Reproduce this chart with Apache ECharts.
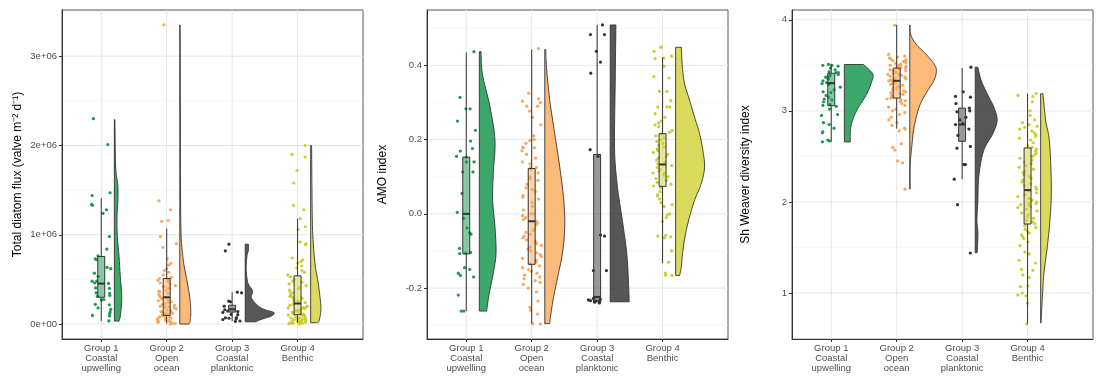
<!DOCTYPE html>
<html lang="en">
<head>
<meta charset="UTF-8">
<title>Raincloud plots</title>
<script src="https://cdn.jsdelivr.net/npm/echarts@6/dist/echarts.min.js"></script>
<style>
  html, body { margin: 0; padding: 0; background: #fff; }
  #chart { width: 1105px; height: 385px; }
</style>
</head>
<body>
<div id="chart"></div>
<script>
var groupLabels = ['Group 1\nCoastal\nupwelling', 'Group 2\nOpen\nocean', 'Group 3\nCoastal\nplanktonic', 'Group 4\nBenthic'];
var groupSlots = [1, 2, 3, 4];
var pointColors = ['#1a9850', '#fba65a', '#333333', '#cccc33'];
var fillColors = ['#1a9850', '#fdae61', '#3a3a3a', '#d3d340'];

// ---- panel 1: total diatom flux, in millions of valves m-2 d-1 ----
var fluxTicks = [0, 1, 2, 3];
var fluxMinor = [0.5, 1.5, 2.5, 3.5];
var fluxPoints1 = [2.30, 2.01, 1.47, 1.44, 1.34, 1.33, 1.28, 1.24, 0.98, 0.84, 0.765, 0.73, 0.72, 0.635, 0.62, 0.57, 0.535, 0.48, 0.48, 0.46, 0.455, 0.405, 0.40, 0.35, 0.345, 0.32, 0.31, 0.275, 0.27, 0.22, 0.215, 0.18, 0.164, 0.134, 0.116, 0.097, 0.09, 0.035];
var fluxPoints2 = [3.35, 1.38, 1.28, 1.16, 1.15, 0.98, 0.90, 0.86, 0.73, 0.68, 0.66, 0.62, 0.60, 0.58, 0.55, 0.52, 0.51, 0.50, 0.49, 0.48, 0.46, 0.45, 0.43, 0.42, 0.40, 0.38, 0.37, 0.36, 0.34, 0.33, 0.31, 0.30, 0.29, 0.28, 0.27, 0.26, 0.25, 0.24, 0.23, 0.22, 0.21, 0.20, 0.19, 0.19, 0.18, 0.17, 0.16, 0.15, 0.14, 0.14, 0.13, 0.12, 0.12, 0.11, 0.10, 0.10, 0.09, 0.08, 0.08, 0.07, 0.07, 0.06, 0.05, 0.05, 0.04, 0.04, 0.03, 0.03, 0.02, 0.02, 0.01, 0.01, 0.005, 0.0];
var fluxPoints3 = [0.895, 0.82, 0.357, 0.35, 0.256, 0.25, 0.20, 0.16, 0.145, 0.14, 0.13, 0.108, 0.105, 0.071, 0.065, 0.06, 0.07, 0.05, 0.034, 0.03];
var fluxPoints4 = [2.0, 1.90, 1.87, 1.72, 1.58, 1.33, 1.28, 1.18, 1.09, 1.06, 0.92, 0.90, 0.89, 0.74, 0.72, 0.70, 0.68, 0.65, 0.63, 0.60, 0.58, 0.55, 0.53, 0.50, 0.48, 0.47, 0.45, 0.43, 0.41, 0.40, 0.38, 0.36, 0.35, 0.33, 0.31, 0.30, 0.29, 0.27, 0.26, 0.25, 0.24, 0.23, 0.22, 0.21, 0.20, 0.19, 0.18, 0.18, 0.17, 0.16, 0.15, 0.15, 0.14, 0.13, 0.13, 0.12, 0.11, 0.11, 0.10, 0.10, 0.09, 0.09, 0.08, 0.08, 0.07, 0.07, 0.06, 0.06, 0.05, 0.05, 0.05, 0.04, 0.04, 0.03, 0.03, 0.03, 0.02, 0.02, 0.02, 0.01, 0.01, 0.01, 0.005, 0.0];
// box stats: [lower whisker, q1, median, q3, upper whisker]
var fluxBoxes = [[0.033, 0.30, 0.453, 0.757, 1.41], [0.005, 0.097, 0.30, 0.51, 1.07], [0.034, 0.134, 0.165, 0.211, 0.356], [0.015, 0.105, 0.23, 0.54, 1.18]];
// half-violin profiles: [value, half width in category units], top to bottom
var fluxViolin1 = [[2.29, 0.008], [1.76, 0.020], [1.58, 0.050], [1.43, 0.056], [1.20, 0.041], [0.98, 0.046], [0.757, 0.072], [0.535, 0.091], [0.353, 0.111], [0.24, 0.111], [0.09, 0.091], [0.033, 0.072]];
var fluxViolin2 = [[3.35, 0.005], [2.5, 0.008], [1.5, 0.011], [1.0, 0.020], [0.8, 0.041], [0.65, 0.066], [0.46, 0.117], [0.27, 0.157], [0.13, 0.168], [0.03, 0.157], [0.0, 0.142]];
var fluxViolin3 = [[0.895, 0.050], [0.83, 0.050], [0.757, 0.026], [0.61, 0.015], [0.46, 0.041], [0.39, 0.102], [0.35, 0.111], [0.29, 0.095], [0.2, 0.203], [0.16, 0.305], [0.127, 0.442], [0.09, 0.40], [0.07, 0.32], [0.04, 0.20], [0.025, 0.17]];
var fluxViolin4 = [[2.0, 0.015], [1.5, 0.020], [1.05, 0.030], [0.68, 0.066], [0.50, 0.107], [0.31, 0.142], [0.164, 0.157], [0.033, 0.127], [0.015, 0.091]];

// ---- panel 2: AMO index ----
var amoTicks = [-0.2, 0.0, 0.2, 0.4];
var amoMinor = [-0.3, -0.1, 0.1, 0.3, 0.5];
var amoPoints1 = [0.437, 0.314, 0.283, 0.283, 0.25, 0.225, 0.196, 0.176, 0.169, 0.155, 0.152, 0.14, 0.14, 0.113, 0.113, 0.055, 0.004, -0.012, -0.038, -0.051, -0.055, -0.093, -0.104, -0.106, -0.107, -0.145, -0.15, -0.16, -0.17, -0.166, -0.219, -0.262, -0.262];
var amoPoints2 = [0.445, 0.325, 0.31, 0.304, 0.30, 0.29, 0.29, 0.277, 0.26, 0.24, 0.21, 0.20, 0.198, 0.19, 0.18, 0.178, 0.178, 0.17, 0.16, 0.15, 0.14, 0.135, 0.125, 0.125, 0.12, 0.11, 0.10, 0.095, 0.09, 0.08, 0.07, 0.065, 0.06, 0.05, 0.045, 0.04, 0.03, 0.02, 0.01, 0.0, 0.0, -0.005, -0.01, -0.015, -0.02, -0.025, -0.03, -0.04, -0.045, -0.05, -0.055, -0.06, -0.065, -0.07, -0.075, -0.08, -0.085, -0.09, -0.095, -0.10, -0.105, -0.11, -0.115, -0.12, -0.125, -0.13, -0.135, -0.14, -0.145, -0.15, -0.155, -0.16, -0.165, -0.17, -0.175, -0.18, -0.185, -0.19, -0.20, -0.21, -0.235, -0.252, -0.26, -0.27, -0.296, -0.297];
var amoPoints3 = [0.509, 0.483, 0.483, 0.438, 0.409, 0.379, 0.173, 0.155, -0.057, -0.06, -0.153, -0.153, -0.228, -0.23, -0.232, -0.234, -0.235, -0.236, -0.237, -0.238, -0.24, -0.235];
var amoPoints4 = [0.449, 0.449, 0.438, 0.425, 0.42, 0.418, 0.398, 0.37, 0.366, 0.33, 0.33, 0.305, 0.288, 0.288, 0.288, 0.27, 0.26, 0.25, 0.245, 0.24, 0.235, 0.225, 0.22, 0.215, 0.21, 0.205, 0.20, 0.195, 0.19, 0.185, 0.18, 0.175, 0.17, 0.165, 0.16, 0.155, 0.15, 0.145, 0.14, 0.135, 0.13, 0.125, 0.12, 0.115, 0.11, 0.11, 0.105, 0.10, 0.095, 0.09, 0.085, 0.08, 0.075, 0.07, 0.06, 0.052, 0.048, 0.04, 0.03, 0.025, 0.02, 0.0, -0.003, -0.01, -0.02, -0.058, -0.06, -0.062, -0.065, -0.10, -0.13, -0.16, -0.165, -0.166];
var amoBoxes = [[-0.262, -0.108, 0.0, 0.153, 0.435], [-0.296, -0.136, -0.02, 0.122, 0.443], [-0.237, -0.235, -0.224, 0.16, 0.509], [-0.133, 0.074, 0.133, 0.216, 0.422]];
var amoViolin1 = [[0.437, 0.026], [0.377, 0.046], [0.288, 0.163], [0.198, 0.239], [0.109, 0.213], [0.037, 0.203], [-0.035, 0.239], [-0.106, 0.255], [-0.160, 0.213], [-0.214, 0.152], [-0.262, 0.111]];
var amoViolin2 = [[0.443, 0.015], [0.395, 0.026], [0.306, 0.076], [0.216, 0.152], [0.126, 0.229], [0.037, 0.290], [-0.035, 0.305], [-0.106, 0.270], [-0.178, 0.188], [-0.232, 0.127], [-0.277, 0.087], [-0.296, 0.076]];
var amoViolin3 = [[0.509, 0.087], [0.355, 0.076], [0.176, 0.066], [0.086, 0.102], [0.032, 0.142], [-0.039, 0.203], [-0.111, 0.255], [-0.183, 0.279], [-0.237, 0.290]];
var amoViolin4 = [[0.449, 0.087], [0.395, 0.102], [0.35, 0.137], [0.306, 0.213], [0.26, 0.290], [0.216, 0.366], [0.171, 0.416], [0.126, 0.442], [0.082, 0.392], [0.037, 0.290], [-0.008, 0.213], [-0.053, 0.152], [-0.098, 0.111], [-0.142, 0.087], [-0.166, 0.061]];

// ---- panel 3: Shannon-Weaver diversity ----
var shTicks = [1, 2, 3, 4];
var shMinor = [0.5, 1.5, 2.5, 3.5];
var shPoints1 = [3.51, 3.50, 3.50, 3.49, 3.47, 3.45, 3.43, 3.42, 3.42, 3.40, 3.39, 3.38, 3.37, 3.36, 3.35, 3.33, 3.31, 3.30, 3.29, 3.26, 3.23, 3.21, 3.20, 3.17, 3.15, 3.13, 3.12, 3.10, 3.07, 3.06, 3.05, 3.02, 2.96, 2.95, 2.87, 2.85, 2.81, 2.77, 2.76, 2.68, 2.67, 2.66];
var shPoints2 = [3.94, 3.62, 3.60, 3.59, 3.58, 3.57, 3.56, 3.55, 3.55, 3.54, 3.53, 3.52, 3.51, 3.50, 3.50, 3.49, 3.48, 3.47, 3.47, 3.46, 3.45, 3.44, 3.44, 3.43, 3.42, 3.41, 3.40, 3.40, 3.39, 3.38, 3.37, 3.36, 3.35, 3.35, 3.34, 3.33, 3.32, 3.31, 3.30, 3.29, 3.28, 3.27, 3.26, 3.25, 3.24, 3.23, 3.22, 3.21, 3.20, 3.19, 3.18, 3.17, 3.16, 3.15, 3.14, 3.13, 3.12, 3.11, 3.10, 3.08, 3.06, 3.04, 3.02, 3.00, 2.98, 2.96, 2.93, 2.90, 2.87, 2.84, 2.81, 2.80, 2.78, 2.64, 2.60, 2.57, 2.45, 2.43, 2.14];
var shPoints3 = [3.48, 3.21, 3.16, 3.15, 3.08, 3.03, 3.0, 2.99, 2.93, 2.9, 2.86, 2.85, 2.80, 2.73, 2.61, 2.59, 2.41, 2.41, 2.25, 1.97, 1.44];
var shPoints4 = [3.19, 3.17, 3.16, 3.10, 3.00, 2.95, 2.90, 2.87, 2.85, 2.83, 2.82, 2.80, 2.78, 2.76, 2.74, 2.72, 2.70, 2.68, 2.65, 2.62, 2.60, 2.58, 2.56, 2.54, 2.52, 2.50, 2.48, 2.46, 2.44, 2.42, 2.40, 2.38, 2.36, 2.34, 2.32, 2.30, 2.28, 2.26, 2.24, 2.22, 2.20, 2.18, 2.16, 2.14, 2.13, 2.12, 2.10, 2.08, 2.06, 2.04, 2.02, 2.00, 1.99, 1.98, 1.97, 1.96, 1.95, 1.94, 1.92, 1.90, 1.88, 1.86, 1.84, 1.82, 1.80, 1.78, 1.76, 1.74, 1.72, 1.70, 1.68, 1.66, 1.64, 1.62, 1.60, 1.56, 1.52, 1.45, 1.43, 1.36, 1.33, 1.26, 1.25, 1.20, 1.17, 1.08, 1.07, 1.00, 0.98, 0.97, 0.89, 0.66];
var shBoxes = [[2.659, 3.057, 3.304, 3.413, 3.516], [2.805, 3.14, 3.33, 3.47, 3.943], [2.25, 2.666, 2.85, 3.03, 3.47], [0.664, 1.758, 2.13, 2.593, 3.188]];
var shViolin1 = [[3.509, 0.294], [3.407, 0.431], [3.315, 0.416], [3.17, 0.331], [3.024, 0.203], [2.878, 0.117], [2.768, 0.091], [2.659, 0.091]];
var shViolin2 = [[3.943, 0.005], [3.845, 0.011], [3.735, 0.091], [3.626, 0.244], [3.516, 0.370], [3.443, 0.407], [3.334, 0.370], [3.188, 0.244], [3.04, 0.142], [2.823, 0.066], [2.604, 0.030], [2.385, 0.005], [2.141, 0.005]];
var shViolin3 = [[3.479, 0.041], [3.334, 0.091], [3.188, 0.183], [3.04, 0.285], [2.896, 0.335], [2.751, 0.270], [2.604, 0.152], [2.458, 0.091], [2.24, 0.050], [2.02, 0.041], [1.80, 0.026], [1.656, 0.041], [1.444, 0.030]];
var shViolin4 = [[3.188, 0.035], [2.896, 0.076], [2.713, 0.127], [2.458, 0.152], [2.094, 0.163], [1.80, 0.142], [1.51, 0.102], [1.219, 0.050], [1.0, 0.030], [0.672, 0.005]];

var FONT = 'Liberation Sans, Arial, Helvetica, sans-serif';
var X_MIN = 0.4, X_MAX = 5.0;
var VIOLIN_NUDGE = 0.2, BOX_HALF = 0.053, JITTER = 0.15;

var panels = [
  { title: 'Total diatom flux (valve m\u207B\u00B2 d\u207B\u00B9)', points: [fluxPoints1, fluxPoints2, fluxPoints3, fluxPoints4], boxes: fluxBoxes,
    violins: [fluxViolin1, fluxViolin2, fluxViolin3, fluxViolin4], ticks: fluxTicks, minor: fluxMinor,
    fmt: function (v) { return v === 0 ? '0e+00' : v + 'e+06'; }, left: 62, right: 742, gap: 38 },
  { title: 'AMO index', points: [amoPoints1, amoPoints2, amoPoints3, amoPoints4], boxes: amoBoxes,
    violins: [amoViolin1, amoViolin2, amoViolin3, amoViolin4], ticks: amoTicks, minor: amoMinor,
    fmt: function (v) { return v.toFixed(1); }, left: 427, right: 377, gap: 38 },
  { title: 'Sh Weaver diversity index', points: [shPoints1, shPoints2, shPoints3, shPoints4], boxes: shBoxes,
    violins: [shViolin1, shViolin2, shViolin3, shViolin4], ticks: shTicks, minor: shMinor,
    fmt: function (v) { return String(v); }, left: 792, right: 12, gap: 40 }
];

// deterministic jitter so the picture is stable
var seed = 12345;
function rnd() { seed = (seed * 16807) % 2147483647; return seed / 2147483647; }

function catmull(pts) {
  var out = [];
  for (var i = 0; i < pts.length - 1; i++) {
    var p0 = pts[Math.max(i - 1, 0)], p1 = pts[i], p2 = pts[i + 1], p3 = pts[Math.min(i + 2, pts.length - 1)];
    for (var s = 0; s < 8; s++) {
      var t = s / 8, t2 = t * t, t3 = t2 * t;
      var q = [0, 1].map(function (k) {
        return 0.5 * (2 * p1[k] + (-p0[k] + p2[k]) * t + (2 * p0[k] - 5 * p1[k] + 4 * p2[k] - p3[k]) * t2 + (-p0[k] + 3 * p1[k] - 3 * p2[k] + p3[k]) * t3);
      });
      out.push(q);
    }
  }
  out.push(pts[pts.length - 1]);
  return out;
}

function withAlpha(hex, a) {
  var c = echarts.color.parse(hex);
  return 'rgba(' + c[0] + ',' + c[1] + ',' + c[2] + ',' + a + ')';
}

var grids = [], xAxes = [], yAxes = [], series = [];

panels.forEach(function (p, pi) {
  var all = [];
  p.points.forEach(function (arr) { all = all.concat(arr); });
  p.violins.forEach(function (v) { v.forEach(function (d) { all.push(d[0]); }); });
  var lo = Math.min.apply(null, all), hi = Math.max.apply(null, all);
  var pad = (hi - lo) * 0.05;

  grids.push({ left: p.left, right: p.right, top: 10, bottom: 46, show: true, borderColor: '#555', borderWidth: 1 });
  xAxes.push({
    type: 'value', gridIndex: pi, min: X_MIN, max: X_MAX,
    axisLine: { show: true, onZero: false, lineStyle: { color: '#333', width: 1 } },
    axisTick: { show: true, length: 3, customValues: groupSlots, lineStyle: { color: '#333' } },
    axisLabel: { customValues: groupSlots, margin: 4, fontSize: 9.5, lineHeight: 10.3, color: '#4d4d4d', fontFamily: FONT,
      formatter: function (v) { return groupLabels[Math.round(v) - 1] || ''; } },
    splitLine: { show: false }
  });
  yAxes.push({
    type: 'value', gridIndex: pi, min: lo - pad, max: hi + pad,
    name: p.title, nameLocation: 'middle', nameGap: p.gap,
    nameTextStyle: { fontSize: 12, color: '#000', fontFamily: FONT },
    axisLine: { show: true, onZero: false, lineStyle: { color: '#333', width: 1 } },
    axisTick: { show: true, length: 3, customValues: p.ticks, lineStyle: { color: '#333' } },
    axisLabel: { customValues: p.ticks, margin: 5, fontSize: 9.5, color: '#4d4d4d', fontFamily: FONT, formatter: p.fmt },
    splitLine: { show: false }
  });

  // background grid lines: [direction(0=h,1=v), value, minor flag]
  var gridRows = [];
  p.minor.forEach(function (v) { gridRows.push([0, v, 1]); });
  p.ticks.forEach(function (v) { gridRows.push([0, v, 0]); });
  groupSlots.forEach(function (v) { gridRows.push([1, v, 0]); });
  series.push({
    type: 'custom', xAxisIndex: pi, yAxisIndex: pi, silent: true, z: 0, data: gridRows,
    renderItem: function (params, api) {
      var cs = params.coordSys;
      var dir = api.value(0), v = api.value(1), minor = api.value(2);
      var shape;
      if (dir === 0) {
        var y = api.coord([1, v])[1];
        shape = { x1: cs.x, y1: y, x2: cs.x + cs.width, y2: y };
      } else {
        var x = api.coord([v, 0])[0];
        shape = { x1: x, y1: cs.y, x2: x, y2: cs.y + cs.height };
      }
      return { type: 'line', shape: shape, style: { stroke: minor ? '#f3f3f3' : '#e6e6e6', lineWidth: minor ? 0.6 : 1 } };
    }
  });

  // half violins
  series.push({
    type: 'custom', xAxisIndex: pi, yAxisIndex: pi, silent: true, z: 2,
    data: groupSlots.map(function (g, gi) { return [g, p.boxes[gi][2]]; }),
    renderItem: function (params, api) {
      var gi = params.dataIndex;
      var prof = p.violins[gi];
      var x0 = groupSlots[gi] + VIOLIN_NUDGE;
      var base = api.coord([x0, prof[0][0]])[0];
      var edge = catmull(prof.map(function (d) { return api.coord([x0 + d[1], d[0]]); }));
      edge.forEach(function (q) { if (q[0] < base) q[0] = base; });
      var top = api.coord([x0, prof[0][0]]);
      var bot = api.coord([x0, prof[prof.length - 1][0]]);
      return {
        type: 'polygon', shape: { points: edge.concat([bot, top]) },
        style: { fill: withAlpha(fillColors[gi], 0.85), stroke: '#333', lineWidth: 0.9 }
      };
    }
  });

  // jittered raw points
  var pts = [];
  p.points.forEach(function (arr, gi) {
    arr.forEach(function (v) { pts.push([groupSlots[gi] + (rnd() * 2 - 1) * JITTER, v, gi]); });
  });
  series.push({
    type: 'scatter', xAxisIndex: pi, yAxisIndex: pi, silent: true, z: 3, symbolSize: 3.2, data: pts,
    itemStyle: { color: function (prm) { return pointColors[prm.data[2]]; }, opacity: 1 }
  });

  // boxplots
  series.push({
    type: 'custom', xAxisIndex: pi, yAxisIndex: pi, silent: true, z: 4,
    data: groupSlots.map(function (g, gi) { return [g].concat(p.boxes[gi]); }),
    renderItem: function (params, api) {
      var gi = params.dataIndex;
      var b = p.boxes[gi], cx = groupSlots[gi];
      var tl = api.coord([cx - BOX_HALF, b[3]]), br = api.coord([cx + BOX_HALF, b[1]]);
      var wTop = api.coord([cx, b[4]]), wQ3 = api.coord([cx, b[3]]);
      var wQ1 = api.coord([cx, b[1]]), wBot = api.coord([cx, b[0]]);
      var mL = api.coord([cx - BOX_HALF, b[2]]), mR = api.coord([cx + BOX_HALF, b[2]]);
      var stroke = { stroke: '#333', lineWidth: 1 };
      return {
        type: 'group', children: [
          { type: 'line', shape: { x1: wTop[0], y1: wTop[1], x2: wQ3[0], y2: wQ3[1] }, style: stroke },
          { type: 'line', shape: { x1: wQ1[0], y1: wQ1[1], x2: wBot[0], y2: wBot[1] }, style: stroke },
          { type: 'rect', shape: { x: tl[0], y: tl[1], width: br[0] - tl[0], height: br[1] - tl[1] },
            style: { fill: withAlpha(fillColors[gi], 0.5), stroke: '#333', lineWidth: 1 } },
          { type: 'line', shape: { x1: mL[0], y1: mL[1], x2: mR[0], y2: mR[1] }, style: { stroke: '#333', lineWidth: 2 } }
        ]
      };
    }
  });
});

var chart = echarts.init(document.getElementById('chart'), null, { renderer: 'canvas' });
chart.setOption({
  animation: false,
  backgroundColor: '#fff',
  grid: grids,
  xAxis: xAxes,
  yAxis: yAxes,
  series: series
});
</script>
</body>
</html>
